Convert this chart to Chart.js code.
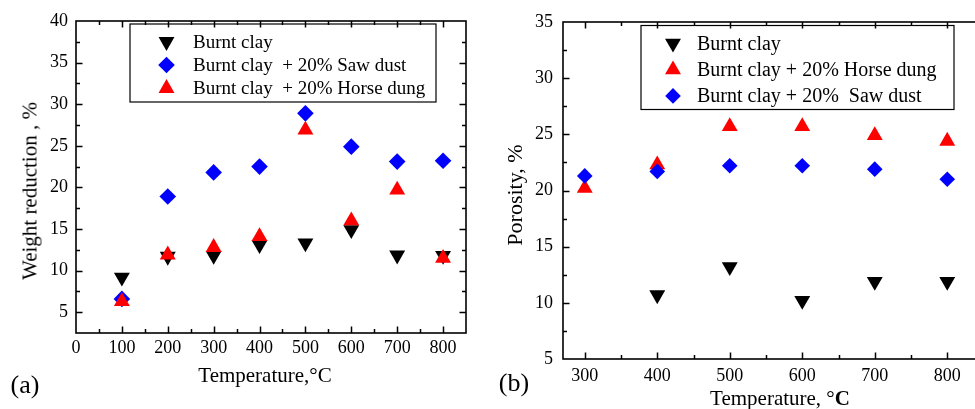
<!DOCTYPE html>
<html>
<head>
<meta charset="utf-8">
<script src="https://cdn.jsdelivr.net/npm/chart.js@4.4.1/dist/chart.umd.min.js"></script>
<style>
  html, body { margin: 0; padding: 0; background: #fff; overflow: hidden; }
  body { width: 975px; height: 409px; position: relative; font-family: 'Liberation Serif', 'Times New Roman', serif; color: #000; }
  .panel { position: absolute; top: 0; height: 409px; }
  #panelA { left: 0; width: 490px; }
  #panelB { left: 490px; width: 530px; }
  .lbl { position: absolute; white-space: nowrap; line-height: 1; }
  .ytitle { transform: translate(-50%, -50%) rotate(-90deg); }
  .ctr { transform: translate(-50%, -50%); }
</style>
</head>
<body>
<div class="panel" id="panelA"><canvas id="chartA" width="490" height="409"></canvas></div>
<div class="panel" id="panelB"><canvas id="chartB" width="530" height="409"></canvas></div>

<div class="lbl ytitle" style="left:30px; top:191px; font-size:21px;">Weight reduction , %</div>
<div class="lbl ctr" style="left:265px; top:375px; font-size:21px;">Temperature,°C</div>
<div class="lbl ctr" style="left:25px; top:385px; font-size:26px;">(a)</div>

<div class="lbl ytitle" style="left:515px; top:195px; font-size:22px;">Porosity, %</div>
<div class="lbl ctr" style="left:780px; top:398px; font-size:21px;">Temperature, °<b>C</b></div>
<div class="lbl ctr" style="left:514px; top:383px; font-size:26px;">(b)</div>

<script>
// ── data: panel (a) weight reduction ──
const TEMPS_A  = [100, 200, 300, 400, 500, 600, 700, 800];
const CLAY_A   = [9.2, 11.7, 11.8, 13.1, 13.3, 14.9, 11.85, 11.8];
const SAW_A    = [6.6, 18.9, 21.8, 22.5, 28.9, 24.9, 23.1, 23.2];
const HORSE_A  = [6.3, 11.9, 12.8, 14.1, 26.9, 16.0, 19.7, 11.5];
const X_TICKS_A = [0, 100, 200, 300, 400, 500, 600, 700, 800];
const Y_TICKS_A = [5, 10, 15, 20, 25, 30, 35, 40];

// ── data: panel (b) porosity ──
const TEMPS_B  = [300, 400, 500, 600, 700, 800];
const CLAY_B   = [null, 10.7, 13.2, 10.2, 11.9, 11.9];
const HORSE_B  = [20.2, 22.3, 25.7, 25.7, 24.9, 24.4];
const SAW_B    = [21.3, 21.7, 22.2, 22.2, 21.9, 21.0];
const X_TICKS_B = [300, 400, 500, 600, 700, 800];
const Y_TICKS_B = [5, 10, 15, 20, 25, 30, 35];

const FONT = "'Liberation Serif', 'Times New Roman', serif";
const pts = (xs, ys) => xs.map((x, i) => ({ x, y: ys[i] }));

function drawMarker(ctx, style, rotation, x, y, r, color) {
  ctx.beginPath();
  if (style === 'triangle') {
    let rad = rotation * Math.PI / 180;
    for (let k = 0; k < 3; k++) {
      const px = x + Math.sin(rad) * r, py = y - Math.cos(rad) * r;
      k === 0 ? ctx.moveTo(px, py) : ctx.lineTo(px, py);
      rad += 2 * Math.PI / 3;
    }
  } else {
    ctx.moveTo(x, y - r); ctx.lineTo(x + r, y); ctx.lineTo(x, y + r); ctx.lineTo(x - r, y);
  }
  ctx.closePath();
  ctx.fillStyle = color;
  ctx.fill();
}

// frame on all four sides, inward major/minor ticks
const frameTicks = {
  id: 'frameTicks',
  beforeDatasetsDraw(chart) {
    const { ctx, chartArea: a, scales: { x, y } } = chart;
    ctx.save();
    ctx.strokeStyle = '#000';
    ctx.lineWidth = 1.6;
    ctx.strokeRect(a.left, a.top, a.right - a.left, a.bottom - a.top);
    ctx.lineWidth = 1.5;
    const marks = (scale) => {
      const major = scale.ticks.map(t => t.value);
      const half = (major[1] - major[0]) / 2;
      const minor = [major[0] - half, ...major.map(v => v + half)];
      return major.map(v => [v, 6.5]).concat(minor.map(v => [v, 4]))
        .filter(([v]) => v > scale.min && v < scale.max);
    };
    ctx.beginPath();
    marks(x).forEach(([v, len]) => {
      const px = Math.round(x.getPixelForValue(v)) + 0.5;
      ctx.moveTo(px, a.bottom); ctx.lineTo(px, a.bottom - len);
      ctx.moveTo(px, a.top); ctx.lineTo(px, a.top + len);
    });
    marks(y).forEach(([v, len]) => {
      const py = Math.round(y.getPixelForValue(v)) + 0.5;
      ctx.moveTo(a.left, py); ctx.lineTo(a.left + len, py);
      ctx.moveTo(a.right, py); ctx.lineTo(a.right - len, py);
    });
    ctx.stroke();
    ctx.restore();
  }
};

// boxed legend inside the plot
const boxLegend = {
  id: 'boxLegend',
  afterDraw(chart, args, o) {
    const ctx = chart.ctx;
    ctx.save();
    ctx.lineWidth = 1.2;
    ctx.strokeStyle = '#000';
    ctx.strokeRect(o.x, o.y, o.w, o.h);
    ctx.font = o.size + 'px ' + FONT;
    ctx.textBaseline = 'middle';
    chart.data.datasets.forEach((ds, i) => {
      const cy = o.rowY + i * o.rowGap;
      drawMarker(ctx, ds.pointStyle, ds.rotation, o.markerX, cy, ds.pointRadius, ds.backgroundColor);
      ctx.fillStyle = '#000';
      ctx.fillText(ds.label, o.textX, cy + 1);
    });
    ctx.restore();
  }
};

function series(label, data, style, rotation, radius, color, order) {
  return {
    label, data, order,
    pointStyle: style, rotation, pointRadius: radius, pointHoverRadius: radius,
    backgroundColor: color, borderColor: color, borderWidth: 0, showLine: false,
  };
}

function axis(min, max, tickList, fit, padding, isX) {
  return {
    type: 'linear', min, max,
    afterBuildTicks: s => { s.ticks = tickList.map(v => ({ value: v })); },
    afterFit: s => { if (isX) s.height = fit; else s.width = fit; },
    grid: { display: false, drawTicks: false },
    border: { display: false },
    ticks: { color: '#000', font: { family: FONT, size: 18 }, padding, maxRotation: 0, autoSkip: false },
  };
}

function baseOptions(layoutPad, xScale, yScale, legend) {
  return {
    responsive: false,
    animation: false,
    layout: { padding: layoutPad },
    plugins: { legend: { display: false }, tooltip: { enabled: false }, boxLegend: legend },
    scales: { x: xScale, y: yScale },
  };
}

// ── (a) weight reduction ──
new Chart(document.getElementById('chartA'), {
  type: 'scatter',
  data: {
    datasets: [
      series('Burnt clay', pts(TEMPS_A, CLAY_A), 'triangle', 180, 9.2, '#000000', 2),
      series('Burnt clay  + 20% Saw dust', pts(TEMPS_A, SAW_A), 'rectRot', 0, 8.3, '#0000ff', 1),
      series('Burnt clay  + 20% Horse dung', pts(TEMPS_A, HORSE_A), 'triangle', 0, 9.2, '#ff0000', 0),
    ],
  },
  options: baseOptions(
    { left: 0, top: 21, right: 24, bottom: 0 },
    axis(0, 850, X_TICKS_A, 76, 4, true),
    axis(2.5, 40, Y_TICKS_A, 76, 8, false),
    { x: 130, y: 24, w: 306, h: 78, rowY: 41.7, rowGap: 23.3, markerX: 166.5, textX: 193, size: 19 }
  ),
  plugins: [frameTicks, boxLegend],
});

// ── (b) porosity ──
new Chart(document.getElementById('chartB'), {
  type: 'scatter',
  data: {
    datasets: [
      series('Burnt clay', pts(TEMPS_B, CLAY_B), 'triangle', 180, 9.2, '#000000', 2),
      series('Burnt clay + 20% Horse dung', pts(TEMPS_B, HORSE_B), 'triangle', 0, 9.2, '#ff0000', 1),
      series('Burnt clay + 20%  Saw dust', pts(TEMPS_B, SAW_B), 'rectRot', 0, 7.8, '#0000ff', 0),
    ],
  },
  options: baseOptions(
    { left: 0, top: 22, right: 36.5, bottom: 0 },
    axis(270, 850, X_TICKS_B, 50, 6, true),
    axis(5, 35, Y_TICKS_B, 73, 10, false),
    { x: 151, y: 25.5, w: 313, h: 84, rowY: 43.3, rowGap: 26.3, markerX: 183, textX: 207, size: 20 }
  ),
  plugins: [frameTicks, boxLegend],
});
</script>
</body>
</html>
